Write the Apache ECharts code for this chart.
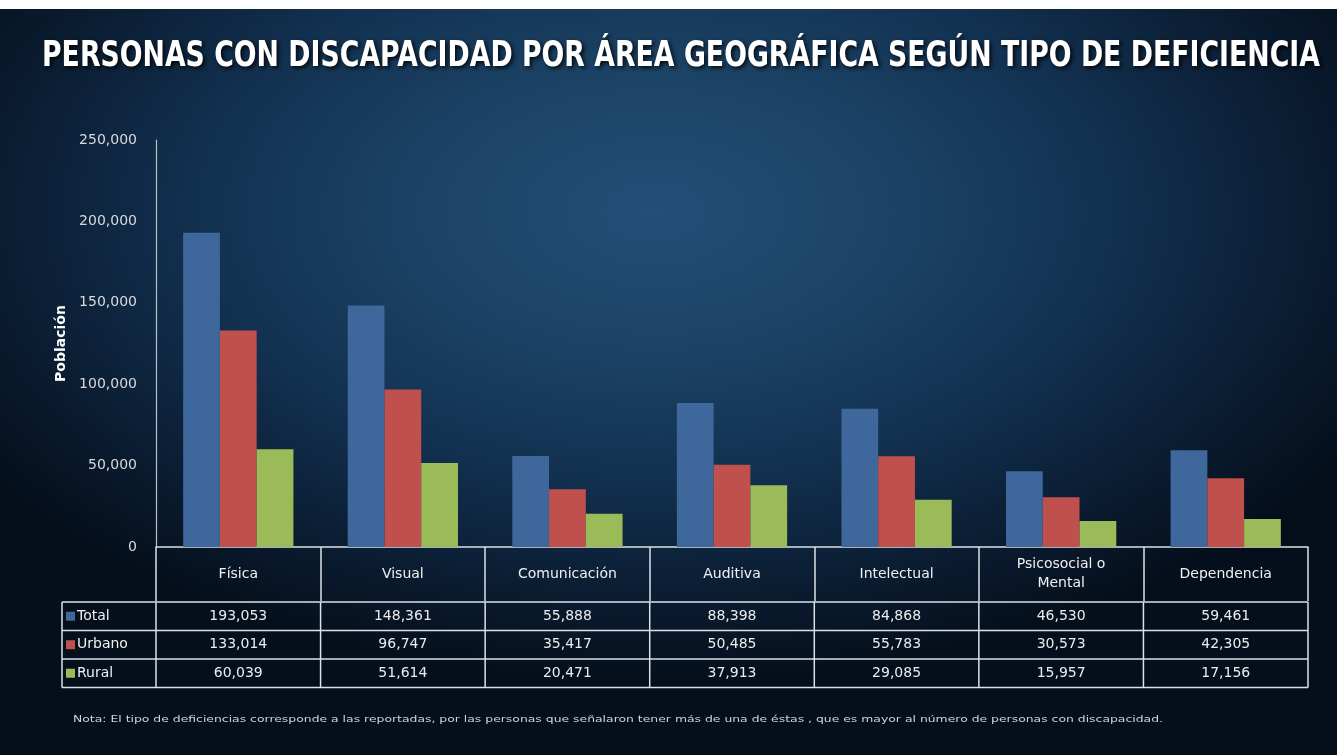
<!DOCTYPE html>
<html><head><meta charset="utf-8">
<script src="https://cdn.jsdelivr.net/npm/echarts@6/dist/echarts.min.js"></script>
<style>
html,body{margin:0;padding:0;background:#fff;}
#main{width:1337px;height:755px;
background: radial-gradient(ellipse 60% 62% at 49% 28%, #234e78 0%, #1c4467 28%, #133252 55%, #0b1e34 80%, #050f1c 100%);}
</style></head><body><div id="main"></div>
<script>
// ---- data ----
const categories = ['Física', 'Visual', 'Comunicación', 'Auditiva', 'Intelectual', 'Psicosocial o\nMental', 'Dependencia'];
const seriesNames = ['Total', 'Urbano', 'Rural'];
const totalValues = [193053, 148361, 55888, 88398, 84868, 46530, 59461];
const urbanoValues = [133014, 96747, 35417, 50485, 55783, 30573, 42305];
const ruralValues = [60039, 51614, 20471, 37913, 29085, 15957, 17156];
const yMax = 250000;
const yInterval = 50000;
const titleText = 'PERSONAS CON DISCAPACIDAD POR ÁREA GEOGRÁFICA SEGÚN TIPO DE DEFICIENCIA';
const yAxisName = 'Población';
const noteText = 'Nota: El tipo de deficiencias corresponde a las reportadas, por las personas que señalaron tener más de una de éstas , que es mayor al número de personas con discapacidad.';

const colors = ['#3e679b', '#c0504d', '#9bbb59'];
const seriesValues = [totalValues, urbanoValues, ruralValues];
const FONT = '"DejaVu Sans", sans-serif';
const lineColor = '#dde1e5';

function fmt(v) { return v.toLocaleString('en-US'); }
function measure(text, font) {
  const c = document.createElement('canvas').getContext('2d');
  c.font = font;
  return c.measureText(text).width;
}

const chart = echarts.init(document.getElementById('main'), null, { renderer: 'canvas' });

const option = {
  backgroundColor: 'transparent',
  animation: false,
  grid: { left: 156, top: 140, right: 29, bottom: 208, containLabel: false },
  xAxis: {
    type: 'category',
    data: categories,
    axisLine: { show: true, lineStyle: { color: lineColor, width: 1.5 } },
    axisTick: { show: true, length: 54, lineStyle: { color: lineColor, width: 1.5 } },
    axisLabel: { color: '#f0f0f0', fontSize: 14, fontFamily: FONT, margin: 27, verticalAlign: 'middle', lineHeight: 19, interval: 0 }
  },
  yAxis: {
    type: 'value',
    min: 0, max: yMax, interval: yInterval,
    name: yAxisName,
    nameLocation: 'middle',
    nameGap: 88,
    nameTextStyle: { color: '#ffffff', fontSize: 14, fontWeight: 'bold', fontFamily: FONT },
    axisLine: { show: true, lineStyle: { color: '#b8c0c8', width: 1.2 } },
    axisTick: { show: false },
    splitLine: { show: false },
    axisLabel: { color: '#d8dadc', fontSize: 14, fontFamily: FONT, margin: 19, formatter: v => fmt(v) }
  },
  series: seriesNames.map((n, i) => ({
    name: n, type: 'bar', data: seriesValues[i],
    itemStyle: { color: colors[i] },
    barGap: '0%', barCategoryGap: '33%'
  }))
};
chart.setOption(option);

function buildGraphics() {
  const g = [];
  // white strip at the top
  g.push({ type: 'rect', shape: { x: 0, y: 0, width: 1337, height: 9 }, style: { fill: '#ffffff' }, z: 100 });

  // title
  const titleFont = 'bold 35px "DejaVu Sans"';
  const tw = measure(titleText, titleFont);
  g.push({
    type: 'text', x: 681, y: 57, scaleX: 1278 / tw, z: 50,
    style: {
      text: titleText, fill: '#ffffff', fontSize: 35, fontWeight: 'bold', fontFamily: '"DejaVu Sans"',
      align: 'center', verticalAlign: 'middle',
      textShadowColor: 'rgba(0,0,0,0.85)', textShadowBlur: 4, textShadowOffsetX: 2, textShadowOffsetY: 2
    }
  });

  // table
  const zeroY = chart.convertToPixel({ yAxisIndex: 0 }, 0);
  const centers = categories.map(c => chart.convertToPixel({ xAxisIndex: 0 }, c));
  const bw = centers[1] - centers[0];
  const tableLeft = 62;
  const firstX = centers[0] - bw / 2;
  const lastX = centers[centers.length - 1] + bw / 2;
  const headerBottom = zeroY + 55;
  const rowH = 28.5;
  const rowTops = seriesNames.map((_, i) => headerBottom + i * rowH);
  const tableBottom = headerBottom + seriesNames.length * rowH;
  const ls = { stroke: lineColor, lineWidth: 1.5 };

  for (let i = 0; i <= seriesNames.length; i++) {
    const y = headerBottom + i * rowH;
    g.push({ type: 'line', shape: { x1: tableLeft, y1: y, x2: lastX, y2: y }, style: ls, silent: true });
  }
  g.push({ type: 'line', shape: { x1: tableLeft, y1: headerBottom, x2: tableLeft, y2: tableBottom }, style: ls });
  for (let i = 0; i <= categories.length; i++) {
    const x = firstX + i * bw;
    g.push({ type: 'line', shape: { x1: x, y1: headerBottom, x2: x, y2: tableBottom }, style: ls });
  }
  seriesNames.forEach((n, r) => {
    const cy = rowTops[r] + rowH / 2;
    g.push({ type: 'rect', shape: { x: 66, y: cy - 4.5, width: 9, height: 9 }, style: { fill: colors[r] } });
    g.push({ type: 'text', x: 77, y: cy, style: { text: n, fill: '#f0f0f0', fontSize: 14, fontFamily: FONT, align: 'left', verticalAlign: 'middle' } });
    seriesValues[r].forEach((v, c) => {
      g.push({ type: 'text', x: centers[c], y: cy, style: { text: fmt(v), fill: '#ececec', fontSize: 14, fontFamily: FONT, align: 'center', verticalAlign: 'middle' } });
    });
  });

  // note
  const noteFont = '8px "DejaVu Sans"';
  const nw = measure(noteText, noteFont);
  g.push({
    type: 'text', x: 73, y: 720, scaleX: 1090 / nw,
    style: { text: noteText, fill: '#cfd4da', fontSize: 8, fontFamily: '"DejaVu Sans"', align: 'left', verticalAlign: 'middle' }
  });
  return g;
}
chart.setOption({ graphic: buildGraphics() });
</script></body></html>
